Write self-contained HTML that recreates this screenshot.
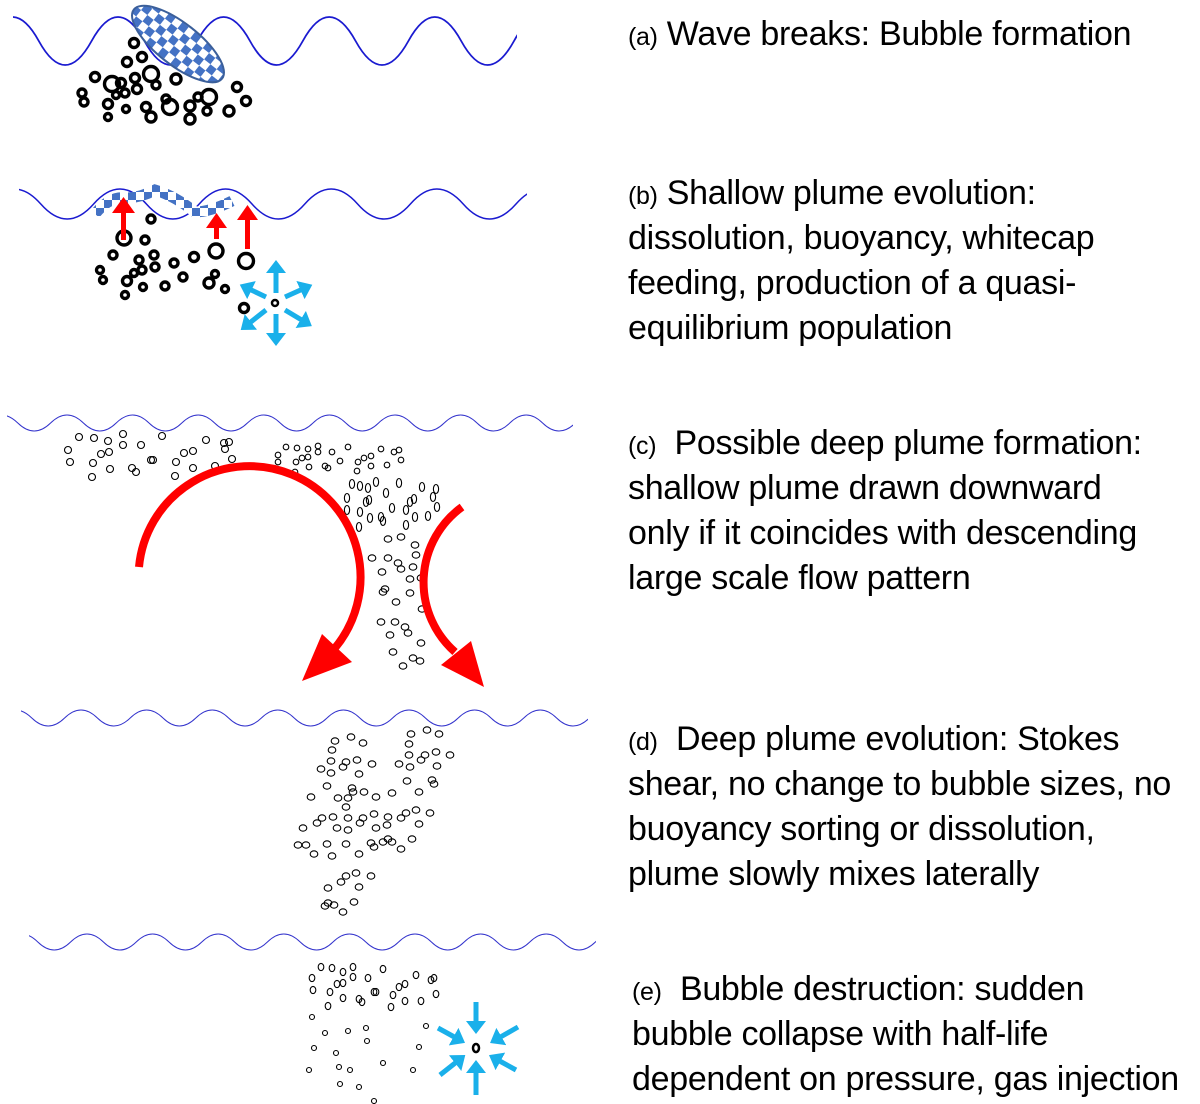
<!DOCTYPE html>
<html><head><meta charset="utf-8">
<style>
html,body{margin:0;padding:0;background:#fff;}
body{width:1200px;height:1104px;position:relative;overflow:hidden;}
svg{position:absolute;left:0;top:0;}
.t{position:absolute;left:628px;font-family:"Liberation Sans",sans-serif;font-size:34px;line-height:44px;height:44px;white-space:nowrap;color:#000;letter-spacing:-0.3px;}
.s{font-size:25px;}
</style></head><body>
<svg width="1200" height="1104" viewBox="0 0 1200 1104">
<defs>
<pattern id="chk" width="16" height="16" patternUnits="userSpaceOnUse">
<rect width="16" height="16" fill="#fff"/><rect width="8" height="8" fill="#4472c4"/><rect x="8" y="8" width="8" height="8" fill="#4472c4"/>
</pattern>
<clipPath id="ca"><rect x="13" y="0" width="504" height="120"/></clipPath>
<clipPath id="cb"><rect x="19" y="150" width="508" height="120"/></clipPath>
<clipPath id="cc"><rect x="7" y="400" width="566" height="50"/></clipPath>
<clipPath id="cd"><rect x="21" y="700" width="567" height="40"/></clipPath>
<clipPath id="ce"><rect x="29" y="920" width="567" height="40"/></clipPath>
<marker id="bh" markerWidth="4" markerHeight="4" refX="1" refY="2" orient="auto" markerUnits="strokeWidth"><path d="M0,0 L2.6,2 L0,4 Z" fill="#1ab0ea"/></marker>
</defs>
<g fill="none" stroke="#1a1ad0">
<path clip-path="url(#ca)" stroke-width="1.8" d="M-14,41 Q12.4,-7 38.8,41 T91.6,41 T144.4,41 T197.2,41 T250,41 T302.8,41 T355.6,41 T408.4,41 T461.2,41 T514,41 T566.8,41"/>
<path clip-path="url(#cb)" stroke-width="1.5" d="M-12,204 Q14.4,174 40.8,204 T93.6,204 T146.4,204 T199.2,204 T252,204 T304.8,204 T357.6,204 T410.4,204 T463.2,204 T516,204 T568.8,204"/>
<path clip-path="url(#cc)" stroke-width="1" stroke="#3333cc" d="M-15,423 Q1.4,407 17.8,423 T50.6,423 T83.4,423 T116.2,423 T149,423 T181.8,423 T214.6,423 T247.4,423 T280.2,423 T313,423 T345.8,423 T378.6,423 T411.4,423 T444.2,423 T477,423 T509.8,423 T542.6,423 T575.4,423 T608,423"/>
<path clip-path="url(#cd)" stroke-width="1" stroke="#3333cc" d="M-1,718 Q15.4,702 31.8,718 T64.6,718 T97.4,718 T130.2,718 T163,718 T195.8,718 T228.6,718 T261.4,718 T294.2,718 T327,718 T359.8,718 T392.6,718 T425.4,718 T458.2,718 T491,718 T523.8,718 T556.6,718 T589.4,718 T622,718"/>
<path clip-path="url(#ce)" stroke-width="1" stroke="#3333cc" d="M5,942 Q21.4,926 37.8,942 T70.6,942 T103.4,942 T136.2,942 T169,942 T201.8,942 T234.6,942 T267.4,942 T300.2,942 T333,942 T365.8,942 T398.6,942 T431.4,942 T464.2,942 T497,942 T529.8,942 T562.6,942 T595.4,942 T628,942"/>
</g>
<ellipse cx="178" cy="44" rx="56" ry="21" transform="rotate(38 178 44)" fill="url(#chk)" stroke="#3b5f9a" stroke-width="2"/>
<g fill="none" stroke="#000" stroke-width="3.4">
<circle cx="134" cy="43" r="4.5"/><circle cx="142" cy="57" r="4.5"/><circle cx="127" cy="62" r="4.5"/><circle cx="95" cy="77" r="4.5"/><circle cx="112" cy="84" r="7.5"/><circle cx="151" cy="74" r="7.5"/><circle cx="121" cy="83" r="4.5"/><circle cx="135" cy="78" r="4.5"/><circle cx="137" cy="89" r="4.5"/><circle cx="156" cy="85" r="4"/><circle cx="176" cy="79" r="5"/><circle cx="82" cy="93" r="4"/><circle cx="84" cy="102" r="4"/><circle cx="108" cy="104" r="4.5"/><circle cx="116" cy="95" r="3.5"/><circle cx="125" cy="93" r="4"/><circle cx="126" cy="109" r="3.5"/><circle cx="146" cy="107" r="4.5"/><circle cx="151" cy="117" r="5"/><circle cx="166" cy="99" r="4"/><circle cx="170" cy="107" r="7.5"/><circle cx="190" cy="106" r="5"/><circle cx="198" cy="97" r="4"/><circle cx="209" cy="97" r="7.5"/><circle cx="207" cy="111" r="4"/><circle cx="190" cy="119" r="5"/><circle cx="229" cy="111" r="5"/><circle cx="237" cy="87" r="4.5"/><circle cx="246" cy="101" r="4.5"/><circle cx="108" cy="117" r="3.5"/>
</g>
<path d="M95,214 Q110,196 125,198 Q140,198 155,190 Q175,196 195,212 Q210,212 232,201" fill="none" stroke="url(#chk)" stroke-width="11"/>
<g fill="none" stroke="#000" stroke-width="3.4">
<circle cx="151" cy="219" r="4"/><circle cx="124" cy="238" r="7"/><circle cx="145" cy="240" r="4"/><circle cx="113" cy="255" r="4"/><circle cx="139" cy="260" r="4"/><circle cx="154" cy="255" r="4"/><circle cx="155" cy="267" r="4"/><circle cx="142" cy="270" r="4"/><circle cx="134" cy="273" r="3.5"/><circle cx="100" cy="270" r="3.5"/><circle cx="103" cy="280" r="3.5"/><circle cx="127" cy="281" r="4.5"/><circle cx="125" cy="295" r="3.5"/><circle cx="143" cy="287" r="3.5"/><circle cx="165" cy="286" r="4"/><circle cx="174" cy="263" r="4"/><circle cx="183" cy="277" r="4"/><circle cx="194" cy="257" r="4.5"/><circle cx="216" cy="251" r="7"/><circle cx="209" cy="283" r="5"/><circle cx="215" cy="274" r="3.5"/><circle cx="225" cy="289" r="3.5"/><circle cx="246" cy="261" r="7.5"/><circle cx="244" cy="308" r="4.5"/><circle cx="275" cy="303" r="3" stroke-width="2.5"/>
</g>
<g fill="#f00">
<rect x="121" y="211" width="5" height="29"/><path d="M112,213 L123.5,197 L135,213 Z"/>
<rect x="214" y="227" width="5" height="12"/><path d="M206,228 L216.5,213 L227,228 Z"/>
<rect x="245" y="219" width="5" height="30"/><path d="M237,220 L247.5,205 L258,220 Z"/>
</g>
<g stroke="#1ab0ea" stroke-width="5" fill="none" marker-end="url(#bh)">
<line x1="276" y1="293" x2="276" y2="268"/><line x1="276" y1="314" x2="276" y2="338"/>
<line x1="285" y1="297" x2="305" y2="288"/><line x1="266" y1="297" x2="247" y2="288"/>
<line x1="266" y1="310" x2="247" y2="325"/><line x1="285" y1="310" x2="305" y2="322"/>
</g>
<g fill="none" stroke="#000" stroke-width="1.1">
<circle cx="79" cy="437" r="3.5"/><circle cx="94" cy="438" r="3.5"/><circle cx="108" cy="441" r="3.5"/><circle cx="123" cy="434" r="3.5"/><circle cx="123" cy="445" r="3.5"/><circle cx="141" cy="445" r="3.5"/><circle cx="162" cy="436" r="3.5"/><circle cx="68" cy="450" r="3.5"/><circle cx="70" cy="462" r="3.5"/><circle cx="93" cy="463" r="3.5"/><circle cx="101" cy="454" r="3.5"/><circle cx="109" cy="452" r="3.5"/><circle cx="110" cy="469" r="3.5"/><circle cx="92" cy="477" r="3.5"/><circle cx="132" cy="468" r="3.5"/><circle cx="136" cy="472" r="3.5"/><circle cx="151" cy="460" r="3.5"/><circle cx="153" cy="460" r="3.5"/><circle cx="176" cy="462" r="3.5"/><circle cx="175" cy="476" r="3.5"/><circle cx="184" cy="453" r="3.5"/><circle cx="193" cy="451" r="3.5"/><circle cx="193" cy="468" r="3.5"/><circle cx="206" cy="440" r="3.5"/><circle cx="215" cy="466" r="3.5"/><circle cx="224" cy="443" r="3.5"/><circle cx="229" cy="442" r="3.5"/><circle cx="225" cy="449" r="3.5"/><circle cx="232" cy="459" r="3.5"/>
<circle cx="286" cy="447" r="2.8"/><circle cx="297" cy="448" r="2.8"/><circle cx="308" cy="449" r="2.8"/><circle cx="318" cy="446" r="2.8"/><circle cx="318" cy="452" r="2.8"/><circle cx="332" cy="452" r="2.8"/><circle cx="348" cy="447" r="2.8"/><circle cx="278" cy="455" r="2.8"/><circle cx="278" cy="462" r="2.8"/><circle cx="296" cy="462" r="2.8"/><circle cx="302" cy="458" r="2.8"/><circle cx="308" cy="457" r="2.8"/><circle cx="309" cy="467" r="2.8"/><circle cx="325" cy="466" r="2.8"/><circle cx="328" cy="468" r="2.8"/><circle cx="340" cy="461" r="2.8"/><circle cx="358" cy="462" r="2.8"/><circle cx="364" cy="458" r="2.8"/><circle cx="371" cy="456" r="2.8"/><circle cx="381" cy="449" r="2.8"/><circle cx="394" cy="452" r="2.8"/><circle cx="399" cy="450" r="2.8"/><circle cx="401" cy="460" r="2.8"/><circle cx="371" cy="466" r="2.8"/><circle cx="387" cy="465" r="2.8"/><circle cx="357" cy="471" r="2.8"/><circle cx="295" cy="472" r="2.8"/>
<ellipse cx="352" cy="484" rx="2.6" ry="4.5"/><ellipse cx="360" cy="486" rx="2.6" ry="4.5"/><ellipse cx="376" cy="482" rx="2.6" ry="4.5"/><ellipse cx="368" cy="488" rx="2.6" ry="4.5"/><ellipse cx="386" cy="493" rx="2.6" ry="4.5"/><ellipse cx="399" cy="483" rx="2.6" ry="4.5"/><ellipse cx="422" cy="487" rx="2.6" ry="4.5"/><ellipse cx="436" cy="489" rx="2.6" ry="4.5"/><ellipse cx="433" cy="497" rx="2.6" ry="4.5"/><ellipse cx="347" cy="498" rx="2.6" ry="4.5"/><ellipse cx="366" cy="502" rx="2.6" ry="4.5"/><ellipse cx="369" cy="500" rx="2.6" ry="4.5"/><ellipse cx="392" cy="508" rx="2.6" ry="4.5"/><ellipse cx="414" cy="499" rx="2.6" ry="4.5"/><ellipse cx="410" cy="502" rx="2.6" ry="4.5"/><ellipse cx="406" cy="510" rx="2.6" ry="4.5"/><ellipse cx="437" cy="507" rx="2.6" ry="4.5"/><ellipse cx="347" cy="510" rx="2.6" ry="4.5"/><ellipse cx="360" cy="512" rx="2.6" ry="4.5"/><ellipse cx="370" cy="518" rx="2.6" ry="4.5"/><ellipse cx="381" cy="517" rx="2.6" ry="4.5"/><ellipse cx="383" cy="521" rx="2.6" ry="4.5"/><ellipse cx="415" cy="517" rx="2.6" ry="4.5"/><ellipse cx="428" cy="516" rx="2.6" ry="4.5"/><ellipse cx="359" cy="527" rx="2.6" ry="4.5"/><ellipse cx="406" cy="525" rx="2.6" ry="4.5"/>
<ellipse cx="388" cy="539" rx="3.8" ry="3.2"/><ellipse cx="401" cy="537" rx="3.8" ry="3.2"/><ellipse cx="415" cy="545" rx="3.8" ry="3.2"/><ellipse cx="416" cy="555" rx="3.8" ry="3.2"/><ellipse cx="372" cy="558" rx="3.8" ry="3.2"/><ellipse cx="388" cy="558" rx="3.8" ry="3.2"/><ellipse cx="398" cy="563" rx="3.8" ry="3.2"/><ellipse cx="401" cy="569" rx="3.8" ry="3.2"/><ellipse cx="413" cy="567" rx="3.8" ry="3.2"/><ellipse cx="382" cy="572" rx="3.8" ry="3.2"/><ellipse cx="410" cy="579" rx="3.8" ry="3.2"/><ellipse cx="421" cy="578" rx="3.8" ry="3.2"/><ellipse cx="385" cy="589" rx="3.8" ry="3.2"/><ellipse cx="383" cy="592" rx="3.8" ry="3.2"/><ellipse cx="410" cy="593" rx="3.8" ry="3.2"/><ellipse cx="396" cy="602" rx="3.8" ry="3.2"/><ellipse cx="422" cy="609" rx="3.8" ry="3.2"/><ellipse cx="381" cy="622" rx="3.8" ry="3.2"/><ellipse cx="395" cy="622" rx="3.8" ry="3.2"/><ellipse cx="405" cy="627" rx="3.8" ry="3.2"/><ellipse cx="408" cy="633" rx="3.8" ry="3.2"/><ellipse cx="390" cy="635" rx="3.8" ry="3.2"/><ellipse cx="421" cy="643" rx="3.8" ry="3.2"/><ellipse cx="393" cy="652" rx="3.8" ry="3.2"/><ellipse cx="413" cy="658" rx="3.8" ry="3.2"/><ellipse cx="420" cy="661" rx="3.8" ry="3.2"/><ellipse cx="403" cy="666" rx="3.8" ry="3.2"/>
</g>
<path d="M139,567 A111,111 0 1 1 335,648" fill="none" stroke="#f00" stroke-width="8"/>
<path d="M302,681 L322,634 L352,662 Z" fill="#f00"/>
<path d="M462,507 A93,93 0 0 0 455,652" fill="none" stroke="#f00" stroke-width="8"/>
<path d="M484,687 L441,665 L471,641 Z" fill="#f00"/>
<g fill="none" stroke="#000" stroke-width="1.1">
<ellipse cx="335" cy="741" rx="3.8" ry="3.2"/><ellipse cx="351" cy="737" rx="3.8" ry="3.2"/><ellipse cx="363" cy="743" rx="3.8" ry="3.2"/><ellipse cx="332" cy="750" rx="3.8" ry="3.2"/><ellipse cx="331" cy="761" rx="3.8" ry="3.2"/><ellipse cx="346" cy="762" rx="3.8" ry="3.2"/><ellipse cx="343" cy="767" rx="3.8" ry="3.2"/><ellipse cx="357" cy="760" rx="3.8" ry="3.2"/><ellipse cx="372" cy="764" rx="3.8" ry="3.2"/><ellipse cx="321" cy="769" rx="3.8" ry="3.2"/><ellipse cx="331" cy="773" rx="3.8" ry="3.2"/><ellipse cx="359" cy="774" rx="3.8" ry="3.2"/><ellipse cx="327" cy="786" rx="3.8" ry="3.2"/><ellipse cx="352" cy="788" rx="3.8" ry="3.2"/><ellipse cx="353" cy="792" rx="3.8" ry="3.2"/><ellipse cx="364" cy="792" rx="3.8" ry="3.2"/><ellipse cx="376" cy="797" rx="3.8" ry="3.2"/><ellipse cx="392" cy="793" rx="3.8" ry="3.2"/><ellipse cx="311" cy="797" rx="3.8" ry="3.2"/><ellipse cx="338" cy="798" rx="3.8" ry="3.2"/><ellipse cx="348" cy="798" rx="3.8" ry="3.2"/><ellipse cx="346" cy="807" rx="3.8" ry="3.2"/><ellipse cx="411" cy="734" rx="3.8" ry="3.2"/><ellipse cx="427" cy="730" rx="3.8" ry="3.2"/><ellipse cx="439" cy="734" rx="3.8" ry="3.2"/><ellipse cx="409" cy="744" rx="3.8" ry="3.2"/><ellipse cx="409" cy="755" rx="3.8" ry="3.2"/><ellipse cx="425" cy="755" rx="3.8" ry="3.2"/><ellipse cx="436" cy="752" rx="3.8" ry="3.2"/><ellipse cx="450" cy="755" rx="3.8" ry="3.2"/><ellipse cx="399" cy="764" rx="3.8" ry="3.2"/><ellipse cx="410" cy="767" rx="3.8" ry="3.2"/><ellipse cx="421" cy="760" rx="3.8" ry="3.2"/><ellipse cx="437" cy="766" rx="3.8" ry="3.2"/><ellipse cx="407" cy="781" rx="3.8" ry="3.2"/><ellipse cx="432" cy="780" rx="3.8" ry="3.2"/><ellipse cx="434" cy="784" rx="3.8" ry="3.2"/><ellipse cx="419" cy="792" rx="3.8" ry="3.2"/><ellipse cx="322" cy="818" rx="3.8" ry="3.2"/><ellipse cx="333" cy="817" rx="3.8" ry="3.2"/><ellipse cx="317" cy="823" rx="3.8" ry="3.2"/><ellipse cx="303" cy="828" rx="3.8" ry="3.2"/><ellipse cx="337" cy="828" rx="3.8" ry="3.2"/><ellipse cx="348" cy="818" rx="3.8" ry="3.2"/><ellipse cx="348" cy="830" rx="3.8" ry="3.2"/><ellipse cx="363" cy="818" rx="3.8" ry="3.2"/><ellipse cx="360" cy="823" rx="3.8" ry="3.2"/><ellipse cx="374" cy="814" rx="3.8" ry="3.2"/><ellipse cx="376" cy="828" rx="3.8" ry="3.2"/><ellipse cx="388" cy="817" rx="3.8" ry="3.2"/><ellipse cx="387" cy="825" rx="3.8" ry="3.2"/><ellipse cx="401" cy="818" rx="3.8" ry="3.2"/><ellipse cx="406" cy="813" rx="3.8" ry="3.2"/><ellipse cx="416" cy="810" rx="3.8" ry="3.2"/><ellipse cx="430" cy="813" rx="3.8" ry="3.2"/><ellipse cx="419" cy="824" rx="3.8" ry="3.2"/><ellipse cx="298" cy="845" rx="3.8" ry="3.2"/><ellipse cx="306" cy="845" rx="3.8" ry="3.2"/><ellipse cx="327" cy="844" rx="3.8" ry="3.2"/><ellipse cx="346" cy="844" rx="3.8" ry="3.2"/><ellipse cx="371" cy="843" rx="3.8" ry="3.2"/><ellipse cx="374" cy="847" rx="3.8" ry="3.2"/><ellipse cx="383" cy="842" rx="3.8" ry="3.2"/><ellipse cx="388" cy="839" rx="3.8" ry="3.2"/><ellipse cx="392" cy="842" rx="3.8" ry="3.2"/><ellipse cx="412" cy="839" rx="3.8" ry="3.2"/><ellipse cx="401" cy="849" rx="3.8" ry="3.2"/><ellipse cx="314" cy="854" rx="3.8" ry="3.2"/><ellipse cx="332" cy="856" rx="3.8" ry="3.2"/><ellipse cx="359" cy="854" rx="3.8" ry="3.2"/><ellipse cx="346" cy="876" rx="3.8" ry="3.2"/><ellipse cx="356" cy="873" rx="3.8" ry="3.2"/><ellipse cx="371" cy="876" rx="3.8" ry="3.2"/><ellipse cx="341" cy="882" rx="3.8" ry="3.2"/><ellipse cx="359" cy="887" rx="3.8" ry="3.2"/><ellipse cx="328" cy="888" rx="3.8" ry="3.2"/><ellipse cx="328" cy="903" rx="3.8" ry="3.2"/><ellipse cx="325" cy="906" rx="3.8" ry="3.2"/><ellipse cx="334" cy="905" rx="3.8" ry="3.2"/><ellipse cx="354" cy="902" rx="3.8" ry="3.2"/><ellipse cx="343" cy="912" rx="3.8" ry="3.2"/>
</g>
<g fill="none" stroke="#000" stroke-width="1.1">
<ellipse cx="321" cy="967" rx="2.8" ry="3.6"/><ellipse cx="332" cy="968" rx="2.8" ry="3.6"/><ellipse cx="343" cy="972" rx="2.8" ry="3.6"/><ellipse cx="353" cy="967" rx="2.8" ry="3.6"/><ellipse cx="383" cy="969" rx="2.8" ry="3.6"/><ellipse cx="312" cy="978" rx="2.8" ry="3.6"/><ellipse cx="353" cy="977" rx="2.8" ry="3.6"/><ellipse cx="368" cy="978" rx="2.8" ry="3.6"/><ellipse cx="416" cy="975" rx="2.8" ry="3.6"/><ellipse cx="431" cy="980" rx="2.8" ry="3.6"/><ellipse cx="434" cy="978" rx="2.8" ry="3.6"/><ellipse cx="313" cy="990" rx="2.8" ry="3.6"/><ellipse cx="330" cy="992" rx="2.8" ry="3.6"/><ellipse cx="337" cy="984" rx="2.8" ry="3.6"/><ellipse cx="343" cy="983" rx="2.8" ry="3.6"/><ellipse cx="374" cy="992" rx="2.8" ry="3.6"/><ellipse cx="376" cy="992" rx="2.8" ry="3.6"/><ellipse cx="399" cy="987" rx="2.8" ry="3.6"/><ellipse cx="405" cy="984" rx="2.8" ry="3.6"/><ellipse cx="393" cy="995" rx="2.8" ry="3.6"/><ellipse cx="436" cy="994" rx="2.8" ry="3.6"/><ellipse cx="343" cy="998" rx="2.8" ry="3.6"/><ellipse cx="359" cy="999" rx="2.8" ry="3.6"/><ellipse cx="362" cy="1002" rx="2.8" ry="3.6"/><ellipse cx="328" cy="1006" rx="2.8" ry="3.6"/><ellipse cx="391" cy="1007" rx="2.8" ry="3.6"/><ellipse cx="405" cy="1001" rx="2.8" ry="3.6"/><ellipse cx="421" cy="1001" rx="2.8" ry="3.6"/>
<circle cx="312" cy="1017" r="2.5"/><circle cx="325" cy="1033" r="2.5"/><circle cx="348" cy="1031" r="2.5"/><circle cx="366" cy="1028" r="2.5"/><circle cx="367" cy="1041" r="2.5"/><circle cx="314" cy="1048" r="2.5"/><circle cx="336" cy="1053" r="2.5"/><circle cx="426" cy="1026" r="2.5"/><circle cx="419" cy="1047" r="2.5"/><circle cx="309" cy="1070" r="2.5"/><circle cx="339" cy="1067" r="2.5"/><circle cx="350" cy="1070" r="2.5"/><circle cx="383" cy="1063" r="2.5"/><circle cx="413" cy="1070" r="2.5"/><circle cx="340" cy="1084" r="2.5"/><circle cx="359" cy="1087" r="2.5"/><circle cx="374" cy="1101" r="2.5"/>
</g>
<ellipse cx="476" cy="1048" rx="3" ry="4" fill="none" stroke="#000" stroke-width="2.5"/>
<g stroke="#1ab0ea" stroke-width="5" fill="none" marker-end="url(#bh)">
<line x1="476" y1="1002" x2="476" y2="1026"/><line x1="476" y1="1095" x2="476" y2="1068"/>
<line x1="438" y1="1028" x2="458" y2="1039"/><line x1="518" y1="1027" x2="497" y2="1039"/>
<line x1="440" y1="1075" x2="459" y2="1060"/><line x1="516" y1="1070" x2="496" y2="1059"/>
</g>
</svg>
<div class="t" style="top:12px;"><span class="s">(a)</span> Wave breaks: Bubble formation</div>
<div class="t" style="top:171px;"><span class="s">(b)</span> Shallow plume evolution:</div>
<div class="t" style="top:216px;">dissolution, buoyancy, whitecap</div>
<div class="t" style="top:261px;">feeding, production of a quasi-</div>
<div class="t" style="top:306px;">equilibrium population</div>
<div class="t" style="top:421px;"><span class="s">(c)</span>&nbsp; Possible deep plume formation:</div>
<div class="t" style="top:466px;">shallow plume drawn downward</div>
<div class="t" style="top:511px;">only if it coincides with descending</div>
<div class="t" style="top:556px;">large scale flow pattern</div>
<div class="t" style="top:717px;"><span class="s">(d)</span>&nbsp; Deep plume evolution: Stokes</div>
<div class="t" style="top:762px;">shear, no change to bubble sizes, no</div>
<div class="t" style="top:807px;">buoyancy sorting or dissolution,</div>
<div class="t" style="top:852px;">plume slowly mixes laterally</div>
<div class="t" style="top:967px;left:632px;"><span class="s">(e)</span>&nbsp; Bubble destruction: sudden</div>
<div class="t" style="top:1012px;left:632px;">bubble collapse with half-life</div>
<div class="t" style="top:1057px;left:632px;">dependent on pressure, gas injection</div>
</body></html>
